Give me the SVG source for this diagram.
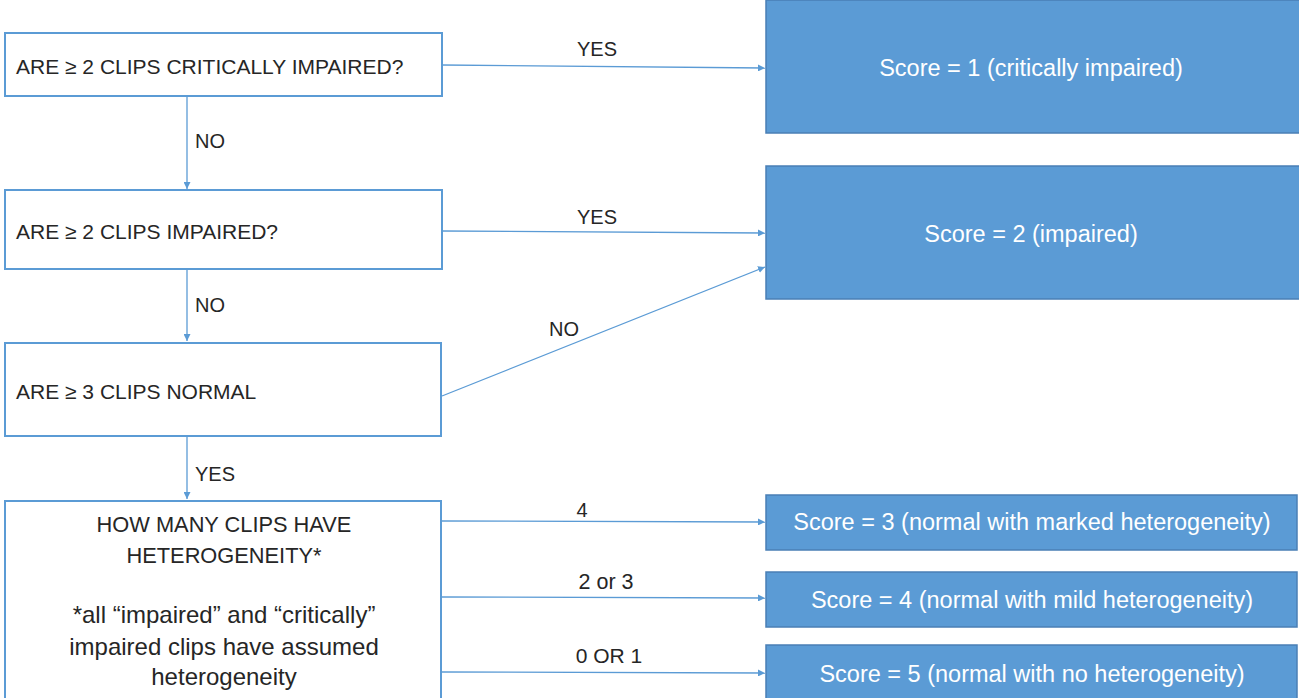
<svg xmlns="http://www.w3.org/2000/svg" width="1299" height="698" viewBox="0 0 1299 698">
<defs>
<style>
.q{fill:#fff;stroke:#5B9BD5;stroke-width:2}
.s{fill:#5B9BD5;stroke:#4A7FB5;stroke-width:1.5}
.t{font-family:"Liberation Sans",Arial,sans-serif;font-size:21px;fill:#262626}
.u{font-family:"Liberation Sans",Arial,sans-serif;font-size:24px;fill:#262626}
.w{font-family:"Liberation Sans",Arial,sans-serif;font-size:23.5px;fill:#fff}
.l{font-family:"Liberation Sans",Arial,sans-serif;font-size:20px;fill:#262626}
.c{stroke:#5B9BD5;stroke-width:1.3;fill:none;marker-end:url(#ah)}
</style>
<marker id="ah" viewBox="0 0 10 10" refX="10" refY="5" markerWidth="7" markerHeight="7" markerUnits="userSpaceOnUse" orient="auto">
<path d="M0,0 L10,5 L0,10 z" fill="#5B9BD5"/>
</marker>
</defs>
<rect width="1299" height="698" fill="#fff"/>

<g id="connectors">
<line class="c" x1="187" y1="96" x2="187" y2="189"/>
<line class="c" x1="187" y1="269" x2="187" y2="341"/>
<line class="c" x1="187" y1="436" x2="187" y2="499"/>
<line class="c" x1="442" y1="65" x2="765" y2="68"/>
<line class="c" x1="442" y1="231" x2="765" y2="233"/>
<line class="c" x1="442" y1="396" x2="765" y2="267"/>
<line class="c" x1="442" y1="521" x2="765" y2="522"/>
<line class="c" x1="442" y1="597" x2="765" y2="598"/>
<line class="c" x1="442" y1="672" x2="765" y2="673"/>
<text class="l" x="195" y="148">NO</text>
<text class="l" x="195" y="312">NO</text>
<text class="l" x="195" y="481">YES</text>
<text class="l" x="597" y="56" text-anchor="middle">YES</text>
<text class="l" x="597" y="224" text-anchor="middle">YES</text>
<text class="l" x="564" y="336" text-anchor="middle">NO</text>
<text class="l" x="582" y="517" text-anchor="middle">4</text>
<text class="l" x="606" y="589" text-anchor="middle" style="font-size:21.5px">2 or 3</text>
<text class="l" x="609" y="663" text-anchor="middle" style="font-size:21px">0 OR 1</text>
</g>

<g id="q1">
<rect class="q" x="5" y="33" width="437" height="63"/>
<text class="t" x="16" y="74">ARE ≥ 2 CLIPS CRITICALLY IMPAIRED?</text>
</g>
<g id="q2">
<rect class="q" x="5" y="190" width="437" height="79"/>
<text class="t" x="16" y="239">ARE ≥ 2 CLIPS IMPAIRED?</text>
</g>
<g id="q3">
<rect class="q" x="5" y="343" width="436" height="93"/>
<text class="t" x="16" y="399">ARE ≥ 3 CLIPS NORMAL</text>
</g>
<g id="q4">
<rect class="q" x="5" y="501" width="436" height="205"/>
<text class="t" x="224" y="532" text-anchor="middle" style="font-size:21.8px">HOW MANY CLIPS HAVE</text>
<text class="t" x="224" y="563" text-anchor="middle" style="font-size:21.8px">HETEROGENEITY*</text>
<text class="u" x="224" y="623" text-anchor="middle">*all “impaired” and “critically”</text>
<text class="u" x="224" y="655" text-anchor="middle">impaired clips have assumed</text>
<text class="u" x="224" y="685" text-anchor="middle">heterogeneity</text>
</g>

<g id="s1">
<rect class="s" x="766" y="0" width="534" height="133"/>
<text class="w" x="1031" y="76" text-anchor="middle">Score = 1 (critically impaired)</text>
</g>
<g id="s2">
<rect class="s" x="766" y="166" width="534" height="133"/>
<text class="w" x="1031" y="242" text-anchor="middle">Score = 2 (impaired)</text>
</g>
<g id="s3">
<rect class="s" x="766" y="495" width="531" height="55"/>
<text class="w" x="1032" y="530" text-anchor="middle">Score = 3 (normal with marked heterogeneity)</text>
</g>
<g id="s4">
<rect class="s" x="766" y="572" width="531" height="55"/>
<text class="w" x="1032" y="608" text-anchor="middle">Score = 4 (normal with mild heterogeneity)</text>
</g>
<g id="s5">
<rect class="s" x="766" y="645" width="531" height="60"/>
<text class="w" x="1032" y="682" text-anchor="middle">Score = 5 (normal with no heterogeneity)</text>
</g>
</svg>
